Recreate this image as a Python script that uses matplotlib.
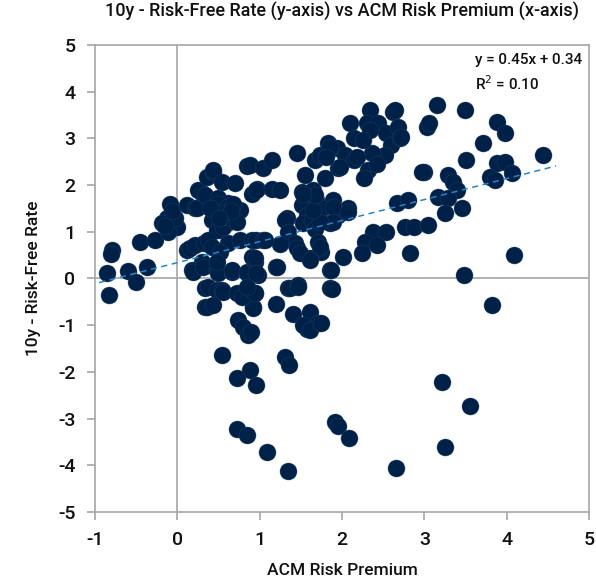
import matplotlib
matplotlib.use("Agg")
import matplotlib.pyplot as plt
import numpy as np

plt.rcParams['font.family'] = ['Roboto', 'DejaVu Sans']

# ACM risk premium (x) and 10y minus risk-free rate (y)
acm_premium = [
    -0.86, -0.83, -0.79, -0.81, -0.60, -0.50, -0.37, -0.45, -0.27, -0.12, -0.09, -0.19, 0.00, -0.11, -0.03, -0.06, -0.15,
    0.12, 0.21, 0.24, 0.30, 0.25, 0.34, 0.36, 0.43, 0.43, 0.54, 0.70, 0.85, 0.49, 0.61, 0.76, 0.42, 0.52, 0.60, 0.62,
    0.76, 0.91, 0.91, 0.97, 0.49, 0.60, 0.68, 0.48, 0.56, 0.62, 0.72, 0.88, 1.04, 1.15, 0.55, 0.65, 0.40, 0.50,
    0.12, 0.15, 0.22, 0.32, 0.37, 0.42, 0.52, 0.30, 0.18, 0.19, 0.31, 0.48, 0.49, 0.66, 0.66, 0.84, 0.85, 0.98,
    0.94, 0.91, 0.48, 0.96, 1.04, 0.94, 0.96,
    0.34, 0.37, 0.48, 0.54, 0.56, 0.34, 0.36, 0.43, 0.72, 0.84, 0.94, 0.92, 0.92, 0.78, 0.74, 0.80, 0.86, 0.54,
    0.88, 0.72, 0.96, 0.72, 0.84, 0.94, 0.90, 0.84,
    1.45, 0.96, 1.15, 1.25, 1.67, 1.73, 1.83, 1.94, 2.04, 2.14, 1.55, 1.95, 1.79, 1.52, 1.65, 1.51, 1.69, 1.89,
    2.07, 1.76, 1.33, 1.57, 1.31, 1.35, 1.43, 1.45, 1.53, 1.63, 1.67, 1.71, 1.75, 1.61, 1.85, 1.95, 1.89, 1.89,
    1.73, 1.73, 1.49, 1.61, 1.65, 1.67, 1.53, 1.85, 1.81, 1.97, 1.20, 1.21, 1.25, 1.85, 1.87, 2.01, 1.06,
    1.20, 1.34, 1.37, 1.46, 1.46, 1.41, 1.61, 1.57, 1.53, 1.71, 1.61, 1.31, 1.36, 1.85, 1.88, 1.09, 1.35, 1.91,
    1.95, 1.75,
    2.10, 2.14, 2.34, 2.62, 2.64, 2.30, 2.44, 2.54, 2.60, 2.52, 2.36, 2.31, 2.27, 2.34, 2.25, 2.18, 2.42, 2.68,
    2.71, 2.72, 2.67, 2.80, 2.76, 2.88, 2.38, 2.54, 2.28, 2.24, 2.42, 2.83, 2.99, 2.97, 2.07, 2.09, 2.66,
    3.15, 3.49, 3.03, 3.06, 3.88, 3.98, 3.71, 4.44, 3.51, 3.29, 3.35, 3.40, 3.88, 3.98, 3.80, 3.86, 4.06, 3.17,
    3.29, 3.46, 3.25, 3.04, 4.09, 3.48, 3.82, 3.22, 3.56, 3.25,
]
rate_10y = [
    0.12, -0.36, 0.60, 0.52, 0.16, -0.08, 0.24, 0.78, 0.82, 1.30, 1.60, 1.18, 1.10, 1.00, 1.30, 1.45, 1.12,
    1.57, 1.50, 1.50, 1.84, 1.90, 1.78, 2.17, 2.28, 2.32, 2.06, 2.04, 2.40, 1.72, 1.61, 1.46, 1.25, 1.03, 1.18, 0.76,
    0.82, 0.82, 1.82, 1.92, 1.60, 1.53, 1.60, 1.03, 1.10, 1.31, 1.20, 2.43, 2.36, 2.53, 1.40, 1.45, 1.50, 1.30,
    0.60, 0.65, 0.71, 0.75, 0.82, 0.67, 0.56, 0.35, 0.18, 0.14, 0.24, 0.18, 0.11, 0.14, 0.18, 0.11, 0.13, 0.07,
    0.35, 0.46, 0.35, 0.82, 0.82, 0.44, 0.11,
    -0.20, -0.19, -0.25, -0.25, -0.29, -0.61, -0.61, -0.57, -0.32, -0.25, -0.32, -0.61, -0.64, -0.40, -0.89, -1.04, -1.21, -1.64,
    -1.96, -2.13, -2.27, -3.23, -3.35, -0.30, -1.15, -0.19,
    2.68, 1.89, 1.91, 1.89, 2.54, 2.64, 2.90, 2.79, 2.64, 2.53, 2.21, 2.36, 2.15, 1.85, 1.89, 1.57, 1.68, 1.68,
    1.50, 1.50, 1.29, 1.36, 1.25, 1.00, 0.76, 0.65, 1.18, 1.25, 1.07, 0.78, 0.56, 0.43, 1.18, 1.36, 1.53, 1.21,
    1.21, 0.67, 0.54, 0.39, 1.46, 1.78, 1.82, 2.82, 2.60, 2.39, 0.24, 0.24, 0.73, 0.18, 0.18, 0.46, 0.82,
    -0.54, -0.21, -0.21, -0.14, -0.19, -0.75, -0.72, -1.08, -1.00, -0.96, -1.10, -1.69, -1.85, -0.21, -0.23, -3.72, -4.12, -3.08,
    -3.15, -0.96,
    3.32, 3.00, 3.60, 3.57, 3.61, 3.32, 3.32, 3.11, 2.86, 2.64, 2.68, 2.32, 2.15, 3.18, 2.96, 2.60, 2.46, 3.25,
    3.00, 3.03, 1.61, 1.68, 1.10, 1.10, 1.00, 1.00, 0.78, 0.54, 0.72, 0.54, 2.28, 2.28, 1.42, -3.42, -4.05,
    3.71, 3.61, 3.25, 3.32, 3.35, 3.11, 2.90, 2.64, 2.54, 2.21, 2.06, 1.89, 2.47, 2.50, 2.17, 2.10, 2.25, 1.74,
    1.72, 1.50, 1.40, 1.14, 0.50, 0.07, -0.57, -2.22, -2.74, -3.61,
]

# linear trendline as printed on the chart
trend_slope = 0.45
trend_intercept = 0.34
trend_r2 = 0.10
trend_range = [-0.95, 4.6]

x_ticks = [-1, 0, 1, 2, 3, 4, 5]
y_ticks = [-5, -4, -3, -2, -1, 0, 1, 2, 3, 4, 5]

navy = '#002147'
grey = '#a6a6a6'
ink = '#111111'

fig = plt.figure(figsize=(5.96, 5.83), dpi=100)
ax = fig.add_axes([0.1594, 0.1218, 0.8289, 0.801])

ax.axhline(0, color=grey, lw=1.2, zorder=1)
ax.axvline(0, color=grey, lw=1.2, zorder=1)

ax.scatter(acm_premium, rate_10y, s=150, color=navy, edgecolors='#23406a',
           linewidths=0.3, zorder=3)

tx = np.array(trend_range)
ax.plot(tx, trend_slope * tx + trend_intercept, color='#1e88d2', lw=1.1,
        ls=(0, (4, 3)), zorder=4)

ax.text(3.62, 4.83, f'y = {trend_slope:.2f}x + {trend_intercept:.2f}',
        fontsize=11, va='top', ha='left', color=ink, fontweight='medium')
ax.text(3.62, 4.37, f'R$^2$ = {trend_r2:.2f}', fontsize=11, va='top',
        ha='left', color=ink, fontweight='medium')

ax.set_xlim(-1, 5)
ax.set_ylim(-5, 5)
ax.set_xticks(x_ticks)
ax.set_yticks(y_ticks)
ax.set_xticklabels([str(t) for t in x_ticks], fontweight='medium')
ax.set_yticklabels([str(t) for t in y_ticks], fontweight='medium')
ax.tick_params(axis='both', direction='out', length=6, width=1.2, color=grey,
               labelsize=14, labelcolor=ink, pad=8)
for sp in ax.spines.values():
    sp.set_color(grey)
    sp.set_linewidth(1.2)

ax.set_xlabel('ACM Risk Premium', fontsize=12.5, color=ink, labelpad=10,
              fontweight='medium')
ax.set_ylabel('10y - Risk-Free Rate', fontsize=12.5, color=ink, labelpad=12,
              fontweight='medium')
ax.set_title('10y - Risk-Free Rate (y-axis) vs ACM Risk Premium (x-axis)',
             fontsize=13, color=ink, pad=20, fontweight='medium')

fig.savefig('out.png', dpi=100)
